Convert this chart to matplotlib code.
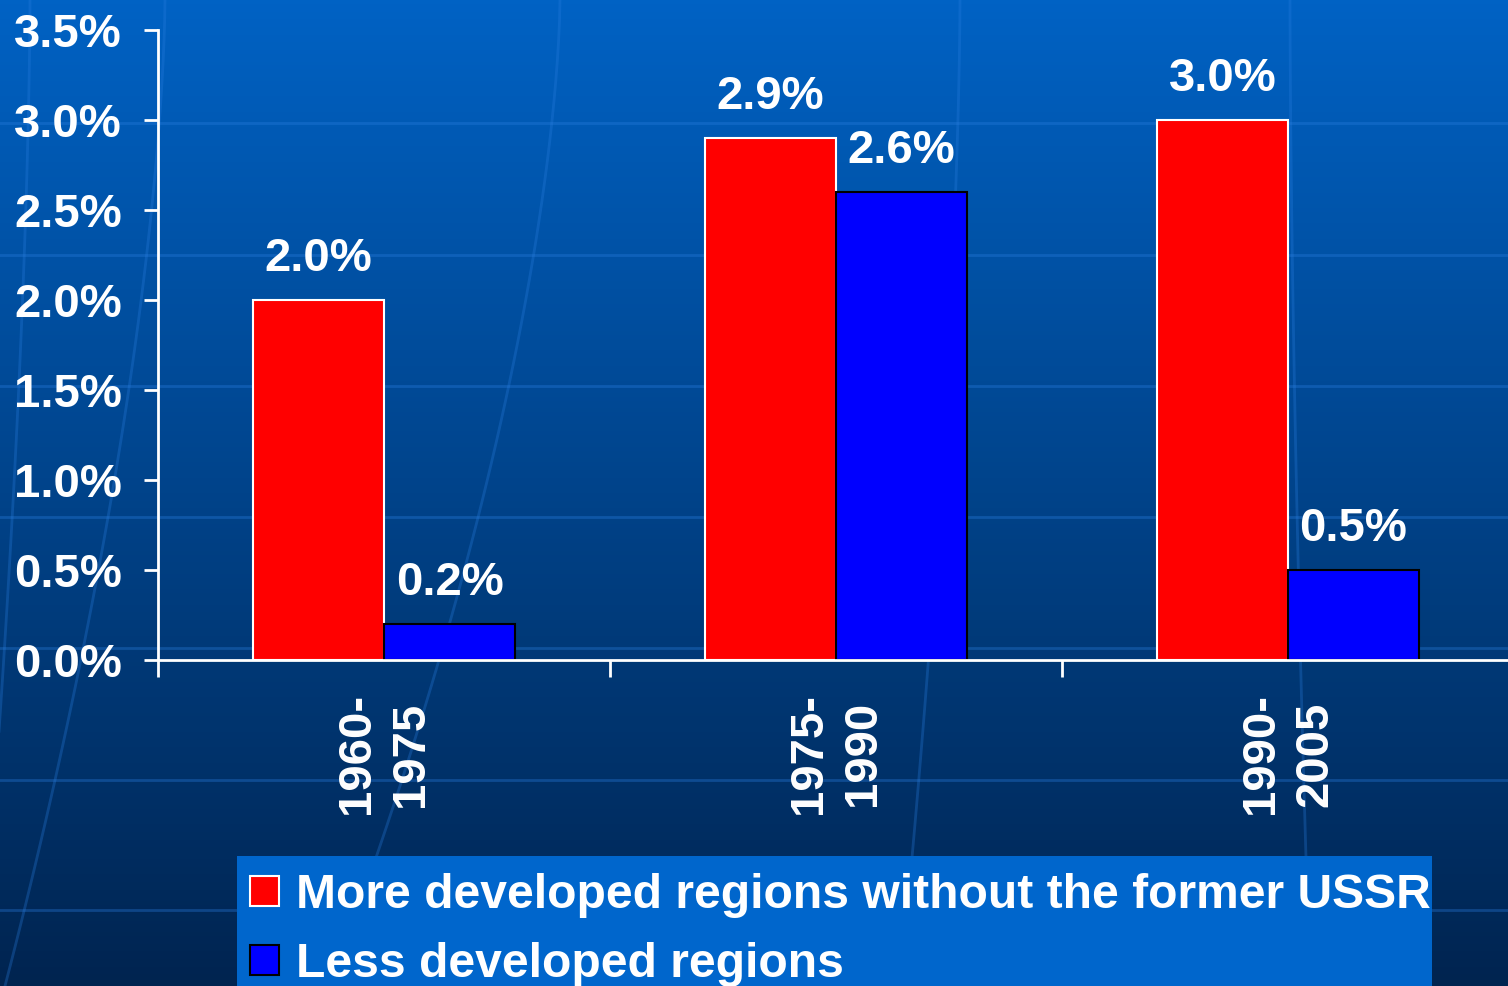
import numpy as np
import matplotlib

matplotlib.use("Agg")
import matplotlib.pyplot as plt
from matplotlib.patches import Patch, Rectangle

# chart data
periods = ["1960-\n1975", "1975-\n1990", "1990-\n2005"]
more_developed = [2.0, 2.9, 3.0]   # % per year
less_developed = [0.2, 2.6, 0.5]
series_names = ["More developed regions without the former USSR",
                "Less developed regions"]
y_ticks = [0.0, 0.5, 1.0, 1.5, 2.0, 2.5, 3.0, 3.5]

W, H = 1508, 986
FS = 34
plt.rcParams["font.family"] = ["Liberation Sans", "DejaVu Sans"]
plt.rcParams["font.weight"] = "bold"

fig = plt.figure(figsize=(W / 100, H / 100), dpi=100)

# background gradient with faint globe lines
bg = fig.add_axes([0, 0, 1, 1], zorder=0)
top = np.array([0, 98, 196]) / 255
bot = np.array([0, 36, 80]) / 255
t = np.linspace(0, 1, 256)[:, None]
grad = top[None, :] * (1 - t) + bot[None, :] * t
bg.imshow(grad[:, None, :], aspect="auto", extent=[0, W, H, 0])
for yy in [123, 255, 386, 517, 648, 780, 910]:
    bg.axhline(yy, color="#2a7ee0", alpha=0.35, lw=2)
for x0, x1 in [(30, -20), (165, 5), (560, 330), (960, 900), (1290, 1310)]:
    ys = np.linspace(0, H, 50)
    xs = x0 + (x1 - x0) * (ys / H) ** 1.6
    bg.plot(xs, ys, color="#2a7ee0", alpha=0.3, lw=2)
# legend panel
bg.add_patch(Rectangle((237, 856), 1432 - 237, H - 856, facecolor="#0066cc",
                       edgecolor="none", zorder=5))
bg.set_xlim(0, W)
bg.set_ylim(H, 0)
bg.axis("off")

# main axes
left = 158 / W
bottom = 1 - 660 / H
height = (660 - 30) / H
ax = fig.add_axes([left, bottom, 1 - left, height], zorder=1)
ax.patch.set_alpha(0)

x = np.arange(len(periods))
bw = 0.29
red_bars = ax.bar(x - bw / 2, more_developed, bw, color="#ff0000",
                  edgecolor="white", linewidth=1.5)
blue_bars = ax.bar(x + bw / 2, less_developed, bw, color="#0000ff",
                   edgecolor="black", linewidth=1.5)

for bars, vals in [(red_bars, more_developed), (blue_bars, less_developed)]:
    for b, v in zip(bars, vals):
        ax.annotate(f"{v:.1f}%", (b.get_x() + b.get_width() / 2, v),
                    xytext=(0, 14), textcoords="offset points",
                    ha="center", va="bottom", color="white",
                    fontsize=FS, fontweight="bold")

ax.set_xlim(-0.5, (W - 158) / 452 - 0.5)
ax.set_ylim(0, 3.5)
ax.set_yticks(y_ticks)
ax.set_yticklabels([f"{v:.1f}%" for v in y_ticks])
ax.set_xticks(x)
ax.set_xticklabels(periods, rotation=90, multialignment="center",
                   linespacing=1.3)
ax.set_xticks([-0.5, 0.5, 1.5], minor=True)

for s in ["top", "right"]:
    ax.spines[s].set_visible(False)
for s in ["left", "bottom"]:
    ax.spines[s].set_color("white")
    ax.spines[s].set_linewidth(2)

ax.tick_params(axis="y", colors="white", labelsize=FS, length=10, width=2,
               pad=16)
ax.tick_params(axis="x", which="major", colors="white", labelsize=FS,
               length=0, pad=24)
ax.tick_params(axis="x", which="minor", colors="white", length=12, width=2,
               direction="out")
for lbl in ax.get_xticklabels() + ax.get_yticklabels():
    lbl.set_fontweight("bold")

handles = [Patch(facecolor="#ff0000", edgecolor="white", linewidth=1.5),
           Patch(facecolor="#0000ff", edgecolor="black", linewidth=1.5)]
leg = fig.legend(handles, series_names, loc="upper left",
                 bbox_to_anchor=(250 / W, 1 - 873 / H), borderaxespad=0,
                 fontsize=34.6, handlelength=0.6, handleheight=0.6,
                 handletextpad=0.35, borderpad=0, labelspacing=0.5,
                 frameon=False)
for txt in leg.get_texts():
    txt.set_color("white")
    txt.set_fontweight("bold")

fig.savefig("out.png", dpi=100)
